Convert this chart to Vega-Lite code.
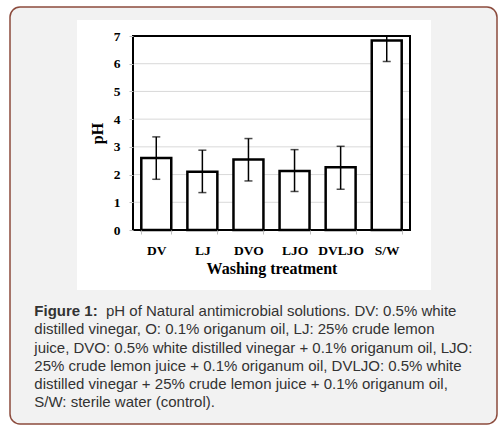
{
  "$schema": "https://vega.github.io/schema/vega-lite/v6.json",
  "description": "pH of natural antimicrobial solutions, bars with error bars",
  "width": 277,
  "height": 194,
  "autosize": {"type": "none"},
  "padding": {"left": 133, "top": 36, "right": 93, "bottom": 201},
  "background": "white",
  "config": {
    "view": {"stroke": null},
    "axis": {
      "labelFont": "Liberation Serif",
      "labelFontWeight": "bold",
      "labelFontSize": 13.5,
      "labelColor": "black",
      "labelOverlap": false,
      "titleFont": "Liberation Serif",
      "titleFontWeight": "bold",
      "titleFontSize": 16,
      "titleColor": "black",
      "grid": false,
      "domain": false,
      "tickColor": "#bfbfbf",
      "tickSize": 4
    },
    "axisY": {"tickCount": 8}
  },
  "datasets": {
    "ph": [
      {"treatment": "DV", "pH": 2.6, "lo": 1.83, "hi": 3.36},
      {"treatment": "LJ", "pH": 2.1, "lo": 1.35, "hi": 2.88},
      {"treatment": "DVO", "pH": 2.54, "lo": 1.77, "hi": 3.3},
      {"treatment": "LJO", "pH": 2.13, "lo": 1.39, "hi": 2.9},
      {"treatment": "DVLJO", "pH": 2.26, "lo": 1.47, "hi": 3.02},
      {"treatment": "S/W", "pH": 6.84, "lo": 6.08, "hi": 7.6}
    ],
    "grid": [{"v": 1}, {"v": 2}, {"v": 3}, {"v": 4}, {"v": 5}, {"v": 6}],
    "one": [{"k": 1}]
  },
  "layer": [
    {
      "data": {"name": "one"},
      "mark": {"type": "rect", "fill": "#f2f2f2", "stroke": "#8c4b3d", "strokeWidth": 1.5, "cornerRadius": 10},
      "encoding": {
        "x": {"value": -123}, "x2": {"value": 364},
        "y": {"value": -29}, "y2": {"value": 388}
      }
    },
    {
      "data": {"name": "one"},
      "mark": {"type": "rect", "fill": "white"},
      "encoding": {
        "x": {"value": -56}, "x2": {"value": 298},
        "y": {"value": -16}, "y2": {"value": 254}
      }
    },
    {
      "data": {"name": "grid"},
      "mark": {"type": "rule", "color": "#d9d9d9", "strokeWidth": 1},
      "encoding": {
        "y": {"field": "v", "type": "quantitative", "scale": {"domain": [0, 7]}, "axis": {"title": "pH", "values": [0, 1, 2, 3, 4, 5, 6, 7], "labelPadding": 9, "titlePadding": 8, "zindex": 2}}
      }
    },
    {
      "data": {"name": "ph"},
      "layer": [
        {
          "mark": {"type": "bar", "fill": "white", "stroke": "black", "strokeWidth": 2.5},
          "encoding": {
            "x": {
              "field": "treatment",
              "type": "nominal",
              "sort": null,
              "scale": {"paddingInner": 0.35, "paddingOuter": 0.18},
              "axis": {"title": "Washing treatment", "labelAngle": 0, "tickBand": "extent", "labelPadding": 9, "titlePadding": 4, "zindex": 2}
            },
            "y": {"field": "pH", "type": "quantitative", "axis": {"title": "pH", "values": [0, 1, 2, 3, 4, 5, 6, 7], "labelPadding": 9, "titlePadding": 8, "zindex": 2}}
          }
        },
        {
          "mark": {"type": "rule", "color": "black", "strokeWidth": 1.5, "clip": true},
          "encoding": {
            "x": {"field": "treatment", "type": "nominal", "sort": null},
            "y": {"field": "lo", "type": "quantitative", "axis": {"title": "pH", "values": [0, 1, 2, 3, 4, 5, 6, 7], "labelPadding": 9, "titlePadding": 8, "zindex": 2}},
            "y2": {"field": "hi"}
          }
        },
        {
          "mark": {"type": "tick", "color": "black", "size": 8, "thickness": 1.5, "clip": true},
          "encoding": {
            "x": {"field": "treatment", "type": "nominal", "sort": null},
            "y": {"field": "lo", "type": "quantitative", "axis": {"title": "pH", "values": [0, 1, 2, 3, 4, 5, 6, 7], "labelPadding": 9, "titlePadding": 8, "zindex": 2}}
          }
        },
        {
          "mark": {"type": "tick", "color": "black", "size": 8, "thickness": 1.5, "clip": true},
          "encoding": {
            "x": {"field": "treatment", "type": "nominal", "sort": null},
            "y": {"field": "hi", "type": "quantitative", "axis": {"title": "pH", "values": [0, 1, 2, 3, 4, 5, 6, 7], "labelPadding": 9, "titlePadding": 8, "zindex": 2}}
          }
        }
      ]
    },
    {
      "data": {"name": "one"},
      "mark": {"type": "rect", "fill": null, "stroke": "black", "strokeWidth": 2},
      "encoding": {
        "x": {"value": 0}, "x2": {"value": "width"},
        "y": {"value": 0}, "y2": {"value": "height"}
      }
    },
    {
      "data": {"name": "one"},
      "mark": {"type": "text", "text": "Figure 1:", "font": "Liberation Sans", "fontSize": 15, "fontWeight": "bold", "color": "#333333", "align": "left", "baseline": "alphabetic"},
      "encoding": {"x": {"value": -98.7}, "y": {"value": 280}}
    },
    {
      "data": {"name": "one"},
      "mark": {"type": "text", "text": "pH of Natural antimicrobial solutions. DV: 0.5% white", "font": "Liberation Sans", "fontSize": 15, "color": "#333333", "align": "left", "baseline": "alphabetic"},
      "encoding": {"x": {"value": -27}, "y": {"value": 280}}
    },
    {
      "data": {"name": "one"},
      "mark": {
        "type": "text",
        "text": [
          "distilled vinegar, O: 0.1% origanum oil, LJ: 25% crude lemon",
          "juice, DVO: 0.5% white distilled vinegar + 0.1% origanum oil, LJO:",
          "25% crude lemon juice + 0.1% origanum oil, DVLJO: 0.5% white",
          "distilled vinegar + 25% crude lemon juice + 0.1% origanum oil,",
          "S/W: sterile water (control)."
        ],
        "font": "Liberation Sans", "fontSize": 15, "lineHeight": 18.3, "color": "#333333", "align": "left", "baseline": "alphabetic"
      },
      "encoding": {"x": {"value": -98.7}, "y": {"value": 298.3}}
    }
  ]
}
